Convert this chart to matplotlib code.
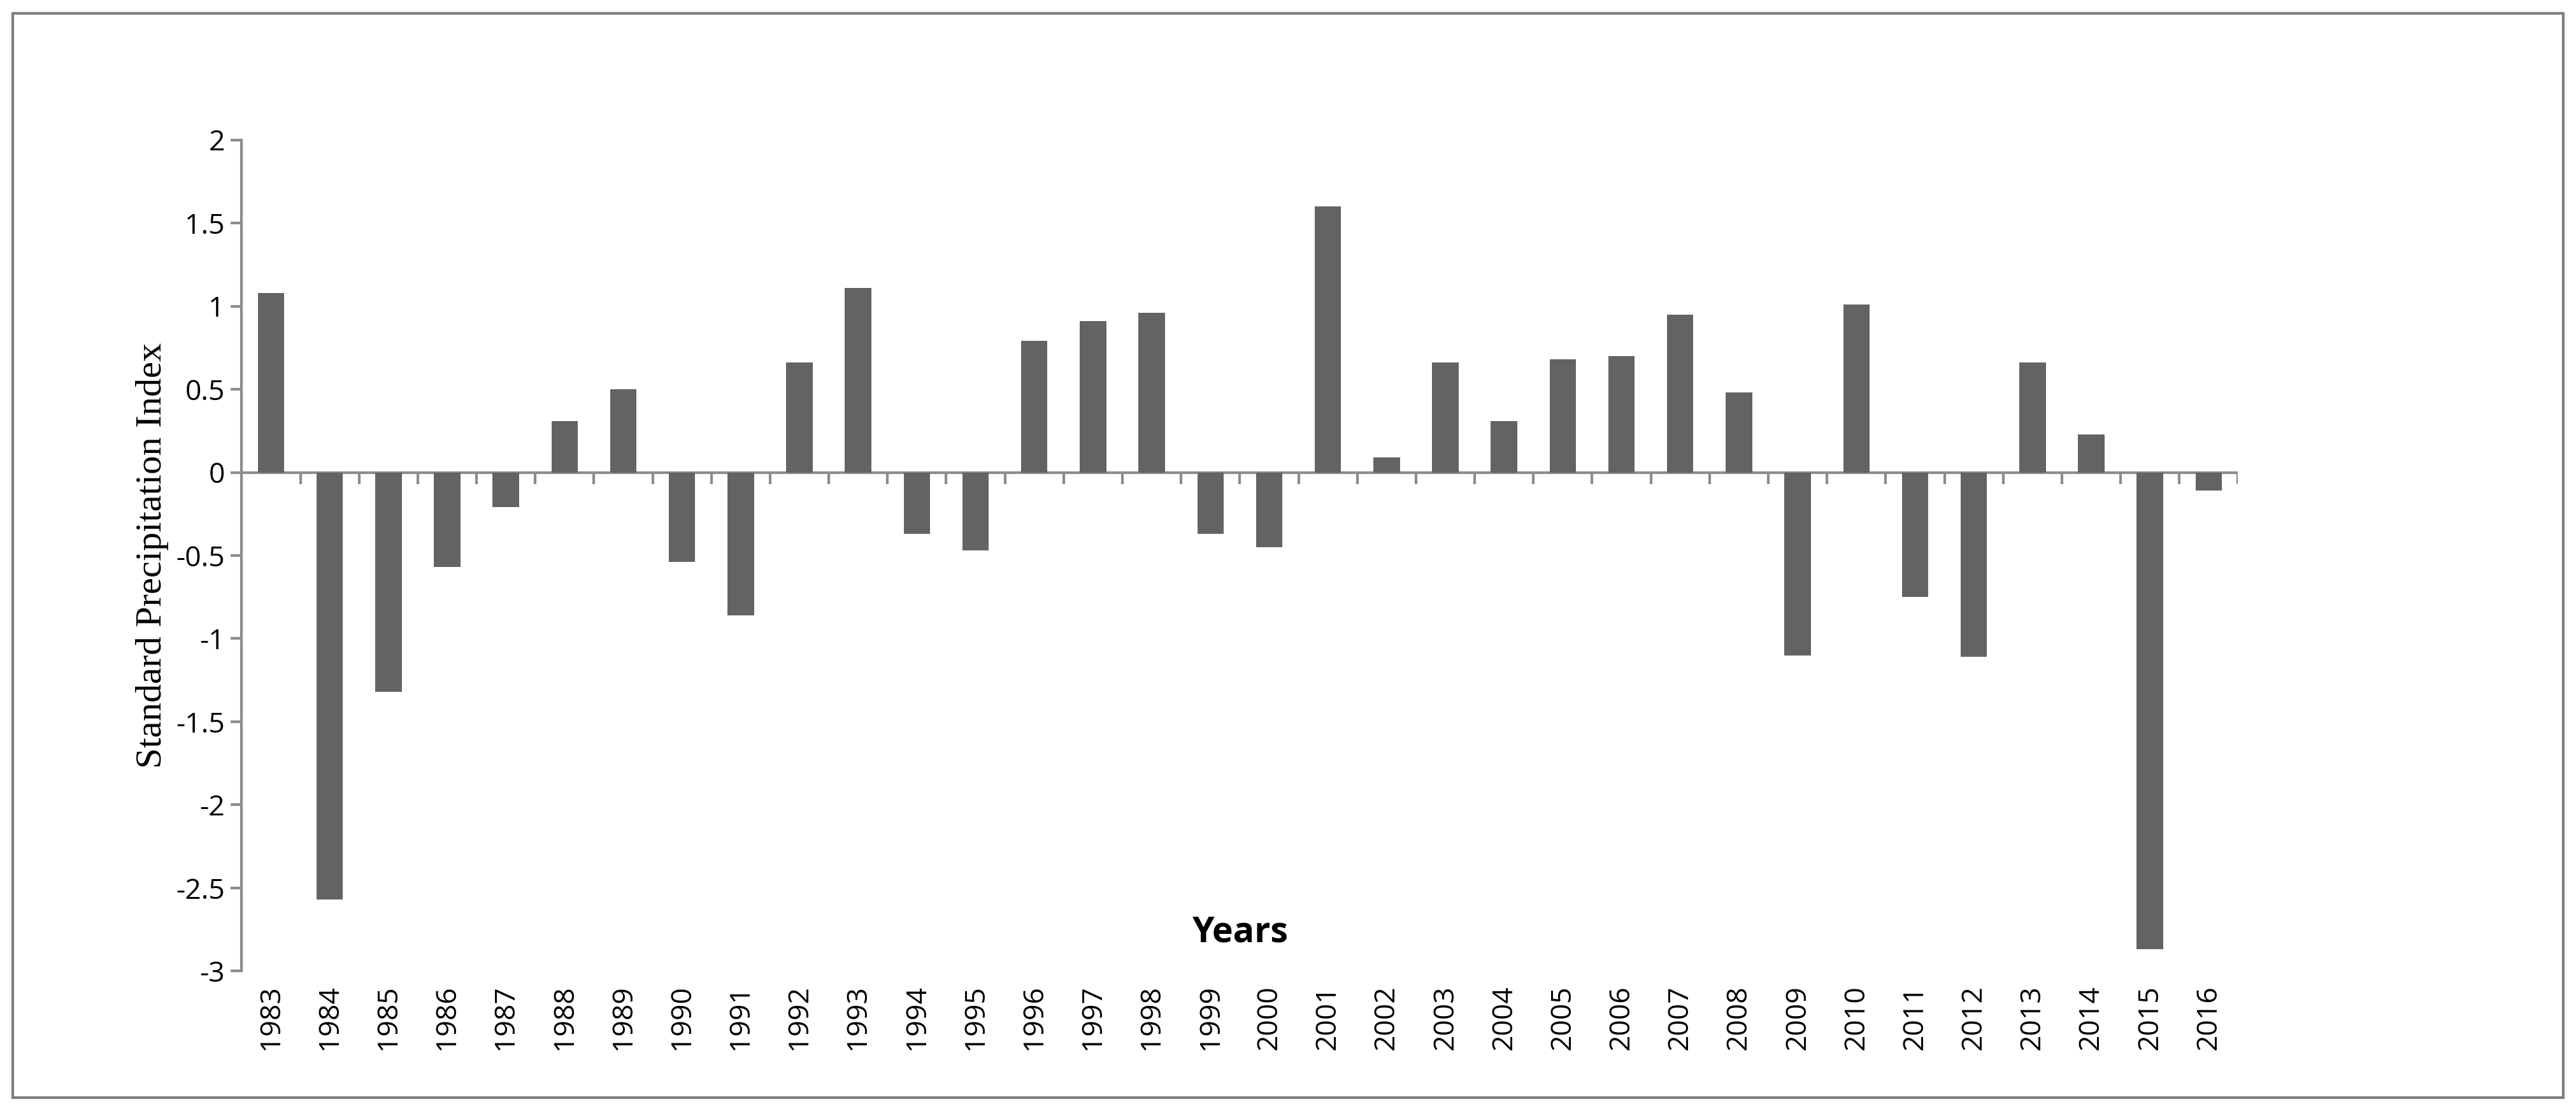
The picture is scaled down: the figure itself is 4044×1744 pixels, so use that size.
import numpy as np
import matplotlib.pyplot as plt
import matplotlib.patches as patches

years = [str(y) for y in range(1983, 2017)]
spi = [1.08, -2.57, -1.32, -0.57, -0.21, 0.31, 0.50, -0.54, -0.86, 0.66,
       1.11, -0.37, -0.47, 0.79, 0.91, 0.96, -0.37, -0.45, 1.60, 0.09,
       0.66, 0.31, 0.68, 0.70, 0.95, 0.48, -1.10, 1.01, -0.75, -1.11,
       0.66, 0.23, -2.87, -0.11]
yticks = [2, 1.5, 1, 0.5, 0, -0.5, -1, -1.5, -2, -2.5, -3]

AXIS = "#8c8c8c"
FONT = ["Open Sans", "DejaVu Sans"]

fig = plt.figure(figsize=(20.22, 8.72), dpi=200)
ax = fig.add_axes([0.0938, 0.126, 0.775, 0.748])

x = np.arange(len(years))
ax.bar(x, spi, width=0.45, color="#636363", zorder=2)

ax.set_xlim(-0.5, len(years) - 0.5)
ax.set_ylim(-3, 2)

# zero line with tick marks pointing down
ax.axhline(0, color=AXIS, linewidth=1.5, zorder=1)
ax.vlines(np.arange(len(years) + 1) - 0.5, -0.07, 0, color=AXIS, linewidth=1.5)

for s in ["top", "right", "bottom"]:
    ax.spines[s].set_visible(False)
ax.spines["left"].set_color(AXIS)
ax.spines["left"].set_linewidth(1.5)

ax.set_yticks(yticks)
ax.set_yticklabels([f"{v:g}" for v in yticks], fontsize=16, family=FONT)
ax.tick_params(axis="y", color=AXIS, length=6, width=1.5)

ax.set_xticks(x)
ax.set_xticklabels(years, rotation=90, fontsize=16, family=FONT)
ax.tick_params(axis="x", length=0, pad=8)

ax.set_ylabel("Standard Precipitation Index", fontsize=21,
              family=["Liberation Serif", "DejaVu Serif"], labelpad=4)
ax.text(0.5, 0.035, "Years", transform=ax.transAxes, ha="center",
        fontsize=20, fontweight="bold", family=FONT)

fig.patches.append(patches.Rectangle((0.005, 0.012), 0.99, 0.976,
                                     transform=fig.transFigure, fill=False,
                                     edgecolor="#7f7f7f", linewidth=1.5))

fig.savefig("out.png", dpi=200)
